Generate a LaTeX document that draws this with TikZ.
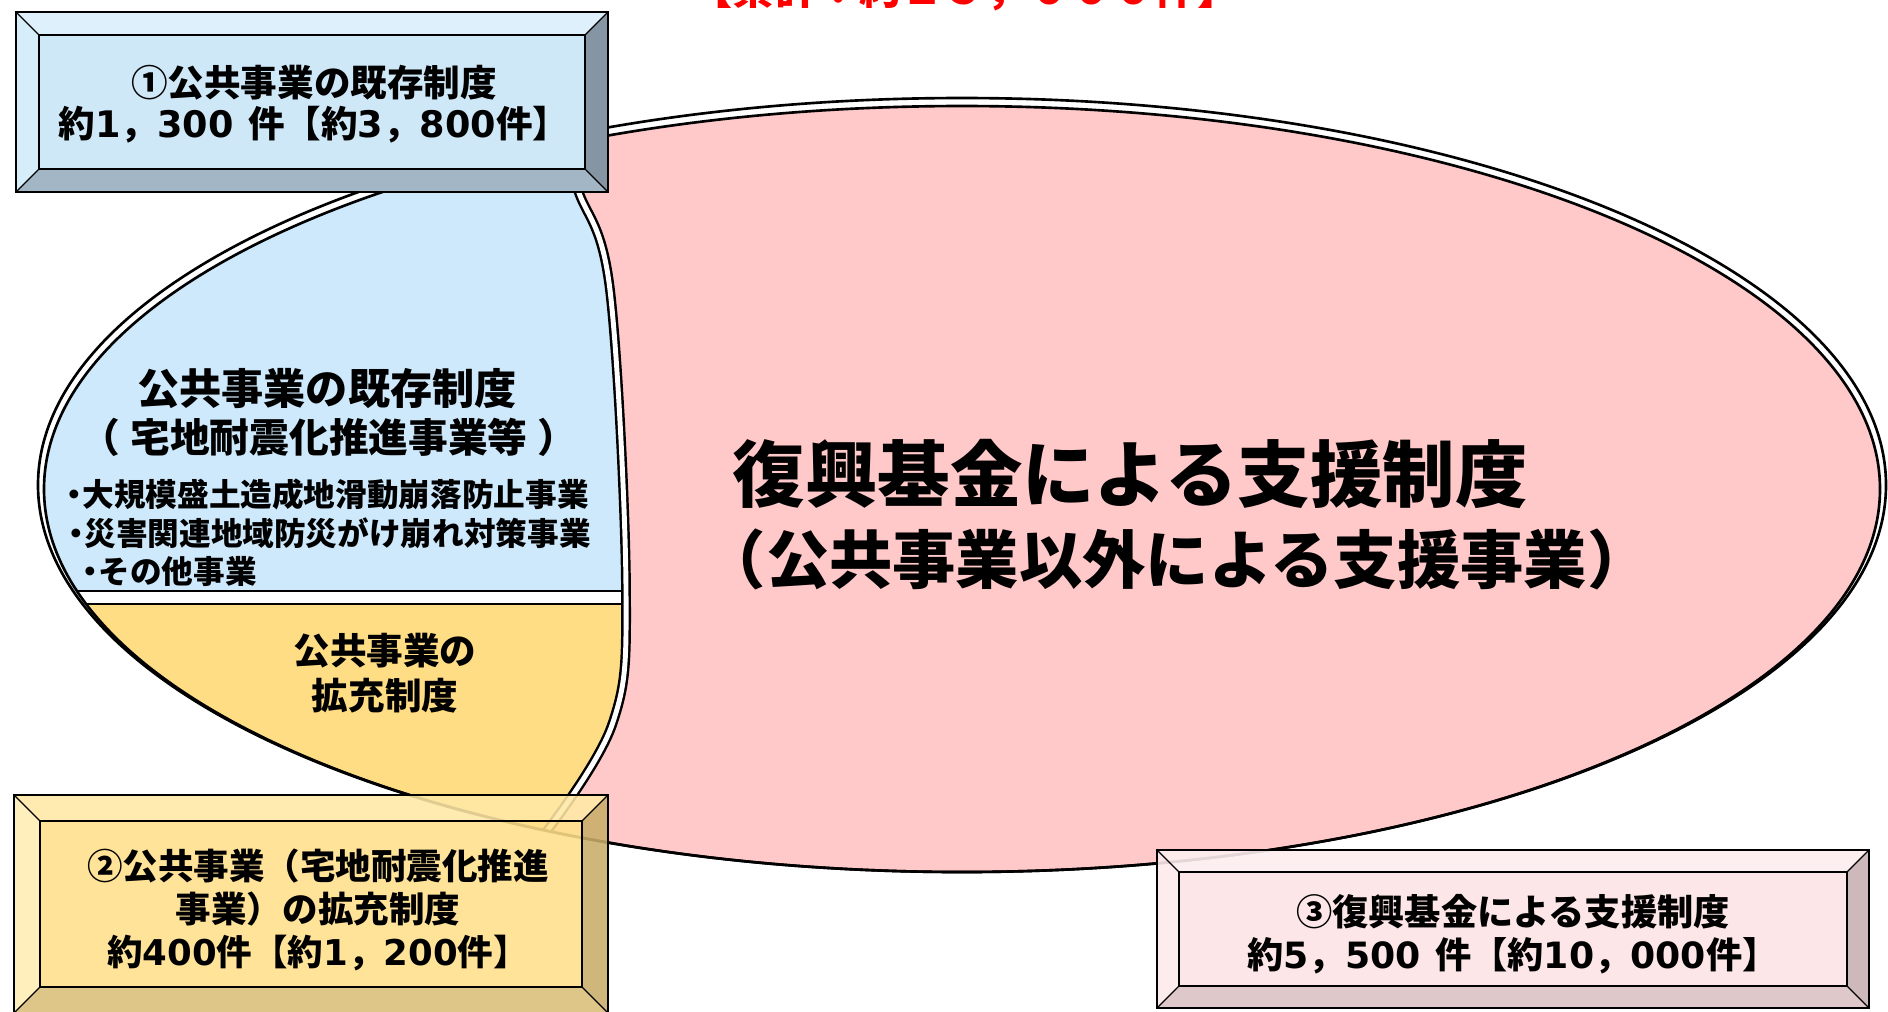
\documentclass[tikz,border=0pt]{standalone}
\usepackage{fontspec}
\setmainfont{Noto Sans CJK JP}
\newfontfamily\dvfont{DejaVu Sans}
\newcommand\dgt[1]{{\dvfont #1}}
\definecolor{ellpink}{HTML}{FFC9CA}
\definecolor{regblue}{HTML}{CDE9FB}
\definecolor{regyel}{HTML}{FFDD85}
\definecolor{aface}{HTML}{CFE8F8}
\definecolor{atop}{HTML}{DDF0FB}
\definecolor{aleft}{HTML}{D6EDFA}
\definecolor{aright}{HTML}{8595A3}
\definecolor{abot}{HTML}{A2B6C6}
\definecolor{bface}{HTML}{FFE08A}
\definecolor{btop}{HTML}{FFE9A6}
\definecolor{bleft}{HTML}{FFEDB5}
\definecolor{bright}{HTML}{C9AE6A}
\definecolor{bbot}{HTML}{D9BF78}
\definecolor{cface}{HTML}{FCE4E6}
\definecolor{ctop}{HTML}{FDEEEF}
\definecolor{cleft}{HTML}{FDEAEC}
\definecolor{cright}{HTML}{C8B2B4}
\definecolor{cbot}{HTML}{DCC3C5}
\tikzset{
  outl/.style={draw=black, line width=0.75pt},
  jtext/.style={inner sep=0pt, font=\bfseries, align=center},
  boxline/.style={draw=black, line width=0.45pt},
}
\newcommand\bevbox[6]{%
  \fill[#1top] (#2,#3) -- (#4,#3) -- ({#4-#6},{#3+#6}) -- ({#2+#6},{#3+#6}) -- cycle;
  \fill[#1bot] (#2,#5) -- (#4,#5) -- ({#4-#6},{#5-#6}) -- ({#2+#6},{#5-#6}) -- cycle;
  \fill[#1left] (#2,#3) -- ({#2+#6},{#3+#6}) -- ({#2+#6},{#5-#6}) -- (#2,#5) -- cycle;
  \fill[#1right] (#4,#3) -- ({#4-#6},{#3+#6}) -- ({#4-#6},{#5-#6}) -- (#4,#5) -- cycle;
  \fill[#1face] ({#2+#6},{#3+#6}) rectangle ({#4-#6},{#5-#6});
}
\newcommand\bevlines[5]{%
  \draw[boxline] (#1,#2) rectangle (#3,#4);
  \draw[boxline, line width=0.35pt] ({#1+#5},{#2+#5}) rectangle ({#3-#5},{#4-#5});
  \draw[boxline, line width=0.35pt] (#1,#2) -- ({#1+#5},{#2+#5}) (#3,#2) -- ({#3-#5},{#2+#5})
     (#1,#4) -- ({#1+#5},{#4-#5}) (#3,#4) -- ({#3-#5},{#4-#5});
}
\begin{document}
\begin{tikzpicture}[x=0.01cm, y=-0.01cm]
\useasboundingbox (0,0) rectangle (1888,1011);
\fill[white] (0,0) rectangle (1888,1011);
% big ellipse
\fill[ellpink] (962,489) ellipse [x radius=918, y radius=383];
\begin{scope}
  \clip (962,489) ellipse [x radius=918, y radius=383];
  \fill[white] (558,0) -- plot[smooth, tension=0.6] coordinates {(558,130) (578,190) (610,290) (626,590) (612,725) (540,840)} -- (540,1011) -- (0,1011) -- (0,0) -- cycle;
  \begin{scope}
    \clip (0,0) rectangle (1888,591);
    \fill[regblue] (558,0) -- plot[smooth, tension=0.6] coordinates {(558,130) (578,190) (610,290) (626,590) (612,725) (540,840)} -- (540,1011) -- (0,1011) -- (0,0) -- cycle;
  \end{scope}
  \begin{scope}
    \clip (0,604) rectangle (1888,1011);
    \fill[regyel] (558,0) -- plot[smooth, tension=0.6] coordinates {(558,130) (578,190) (610,290) (626,590) (612,725) (540,840)} -- (540,1011) -- (0,1011) -- (0,0) -- cycle;
  \end{scope}
  \begin{scope}
    \clip (558,0) -- plot[smooth, tension=0.6] coordinates {(558,130) (578,190) (610,290) (626,590) (612,725) (540,840)} -- (540,1011) -- (0,1011) -- (0,0) -- cycle;
    \draw[outl] (0,591) -- (700,591);
    \draw[outl] (0,604) -- (700,604);
  \end{scope}
  \draw[line width=0.7pt, double=white, double distance=1.4pt] plot[smooth, tension=0.6] coordinates {(558,130) (578,190) (610,290) (626,590) (612,725) (540,840)};
\end{scope}
\draw[outl] (962,489) ellipse [x radius=918, y radius=383];
\draw[outl] (962,485) ellipse [x radius=924, y radius=387];
% boxes
\bevbox{a}{16}{12}{608}{192}{23}
\bevlines{16}{12}{608}{192}{23}
\begin{scope}[fill opacity=0.88]
\bevbox{b}{14}{795}{608}{1013}{26}
\end{scope}
\bevlines{14}{795}{608}{1013}{26}
\begin{scope}[fill opacity=0.9]
\bevbox{c}{1157}{850}{1869}{1008}{22}
\end{scope}
\bevlines{1157}{850}{1869}{1008}{22}
% texts
\node[jtext, text=red, anchor=base, font=\fontsize{12}{14}\selectfont\bfseries] (total) at (965,4) {【累計：約１５，０００件】};
\node[jtext, font=\fontsize{10.4}{11.7}\selectfont\bfseries] (t1) at (314,104) {①公共事業の既存制度\\約\dgt{1}，\dgt{300}\hspace{0.4em}件【約\dgt{3}，\dgt{800}件】};
\node[jtext, font=\fontsize{10.1}{12.2}\selectfont\bfseries] (t2) at (318,910) {②公共事業（宅地耐震化推進\\事業）の拡充制度\\約\dgt{400}件【約\dgt{1}，\dgt{200}件】};
\node[jtext, font=\fontsize{10.3}{12.2}\selectfont\bfseries] (t3) at (1513,934) {③復興基金による支援制度\\約\dgt{5}，\dgt{500}\hspace{0.4em}件【約\dgt{10}，\dgt{000}件】};
\node[jtext, font=\fontsize{12}{14}\selectfont\bfseries] (bl1) at (327,389) {公共事業の既存制度};
\node[jtext, font=\fontsize{11.3}{14}\selectfont\bfseries] (bl2) at (329,437) {（\hspace{0.25em}宅地耐震化推進事業等\hspace{0.25em}）};
\node[jtext, anchor=west, font=\fontsize{9}{10}\selectfont\bfseries] (bu1) at (58,494) {・\hspace{-0.25em}大規模盛土造成地滑動崩落防止事業};
\node[jtext, anchor=west, font=\fontsize{9}{10}\selectfont\bfseries] (bu2) at (60,533) {・\hspace{-0.25em}災害関連地域防災がけ崩れ対策事業};
\node[jtext, anchor=west, font=\fontsize{9}{10}\selectfont\bfseries] (bu3) at (74,571) {・\hspace{-0.25em}その他事業};
\node[jtext, font=\fontsize{10.4}{12.7}\selectfont\bfseries] (ye) at (385,673) {公共事業の\\拡充制度};
\node[jtext, anchor=west, font=\fontsize{20.6}{24}\selectfont\bfseries] (m1) at (732,474) {復興基金による支援制度};
\node[jtext, anchor=west, font=\fontsize{18}{20}\selectfont\bfseries] (m2) at (702,559) {（公共事業以外による支援事業）};
\end{tikzpicture}
\end{document}
